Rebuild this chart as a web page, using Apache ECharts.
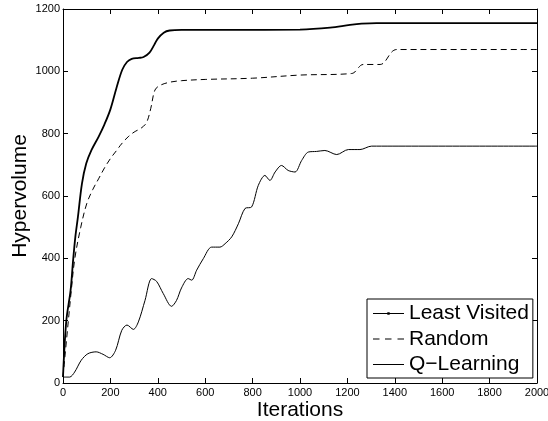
<!DOCTYPE html>
<html>
<head>
<meta charset="utf-8">
<script src="https://cdn.jsdelivr.net/npm/echarts@6/dist/echarts.min.js"></script>
<style>
html,body{margin:0;padding:0;background:#fff;}
#chart{width:548px;height:421px;}
</style>
</head>
<body>
<div id="chart"></div>
<script>
// Least Visited
var lvX = [0, 14, 32, 42, 52, 63, 80, 98, 120, 150, 175, 200, 225, 250, 270, 290, 320, 340, 365, 385, 400, 425, 450, 500, 700, 1000, 1127, 1211, 1260, 1323, 2000];
var lvY = [19, 200, 297, 388, 468, 533, 640, 704, 747, 790, 830, 878, 945, 1005, 1030, 1040, 1043, 1046, 1060, 1085, 1105, 1124, 1131, 1133, 1133, 1134, 1140, 1149, 1153, 1155, 1155];
// Random
var rndX = [0, 35, 50, 75, 100, 125, 150, 175, 200, 225, 250, 275, 300, 330, 352, 370, 388, 410, 450, 500, 600, 800, 1000, 1218, 1267, 1338, 1408, 2000];
var rndY = [19, 297, 400, 500, 575, 620, 655, 690, 720, 745, 770, 790, 805, 818, 835, 880, 940, 955, 965, 970, 974, 978, 988, 993, 1022, 1022, 1070, 1070];
// Q-Learning
var qlX = [0, 28, 49, 77, 105, 140, 169, 197, 222, 248, 270, 297, 318, 346, 374, 395, 423, 458, 479, 500, 528, 543, 564, 592, 627, 662, 684, 712, 740, 768, 796, 824, 852, 873, 895, 922, 950, 979, 1007, 1035, 1070, 1105, 1155, 1204, 1253, 1302, 2000];
var qlY = [19, 19, 35, 73, 94, 100, 92, 81, 105, 169, 186, 172, 196, 265, 335, 326, 287, 246, 265, 305, 335, 330, 362, 399, 436, 436, 447, 469, 511, 560, 565, 634, 666, 650, 677, 698, 682, 677, 714, 741, 743, 746, 733, 749, 749, 760, 760];

var seriesNames = ['Least Visited', 'Random', 'Q\u2212Learning'];
var xTicks = {min: 0, max: 2000, interval: 200};
var yTicks = {min: 0, max: 1200, interval: 200};

function zip(xs, ys) { return xs.map(function (x, i) { return [x, ys[i]]; }); }

var font = '"Liberation Sans", Arial, Helvetica, sans-serif';
var chart = echarts.init(document.getElementById('chart'), null, {renderer: 'canvas'});

function plain(v) { return String(v); }

function axisCommon(extra) {
  var base = {
    type: 'value',
    splitLine: {show: false},
    axisLine: {show: true, onZero: false, lineStyle: {color: '#000', width: 1}},
    axisTick: {show: true, inside: true, length: 5, lineStyle: {color: '#000'}},
    axisLabel: {color: '#000', fontSize: 11, fontFamily: font, formatter: plain}
  };
  for (var k in extra) base[k] = extra[k];
  return base;
}

chart.setOption({
  animation: false,
  backgroundColor: '#fff',
  grid: {left: 63, right: 11, top: 9, bottom: 38, containLabel: false, outerBoundsMode: 'none'},
  xAxis: [
    axisCommon({min: xTicks.min, max: xTicks.max, interval: xTicks.interval, position: 'bottom',
      name: 'Iterations', nameLocation: 'middle', nameGap: 17, nameMoveOverlap: false,
      nameTextStyle: {color: '#000', fontSize: 21, fontFamily: font},
      axisLabel: {color: '#000', fontSize: 11, fontFamily: font, margin: 4, formatter: plain}}),
    axisCommon({min: xTicks.min, max: xTicks.max, interval: xTicks.interval, position: 'top',
      axisLabel: {show: false}})
  ],
  yAxis: [
    axisCommon({min: yTicks.min, max: yTicks.max, interval: yTicks.interval, position: 'left',
      name: 'Hypervolume', nameLocation: 'middle', nameGap: 32, nameRotate: 90, nameMoveOverlap: false,
      nameTextStyle: {color: '#000', fontSize: 21, fontFamily: font},
      axisLabel: {color: '#000', fontSize: 11, fontFamily: font, margin: 3, formatter: plain}}),
    axisCommon({min: yTicks.min, max: yTicks.max, interval: yTicks.interval, position: 'right',
      axisLabel: {show: false}})
  ],
  legend: {
    orient: 'vertical',
    left: 367, top: 299,
    padding: [4, 4, 3, 6],
    itemWidth: 31, itemHeight: 14, itemGap: 4.5,
    backgroundColor: '#fff',
    borderColor: '#000', borderWidth: 1, borderRadius: 0,
    textStyle: {color: '#000', fontSize: 21, fontFamily: font, lineHeight: 21},
    data: [
      {name: seriesNames[0], icon: 'path://M0,9.5 L31,9.5 L31,10.6 L0,10.6 Z M14.3,8.7 L16.7,8.7 L16.7,11.4 L14.3,11.4 Z'},
      {name: seriesNames[1], icon: 'path://M0,9.5 L6.5,9.5 L6.5,10.5 L0,10.5 Z M12,9.5 L18.5,9.5 L18.5,10.5 L12,10.5 Z M24.5,9.5 L31,9.5 L31,10.5 L24.5,10.5 Z'},
      {name: seriesNames[2], icon: 'path://M0,9.5 L31,9.5 L31,10.5 L0,10.5 Z'}
    ]
  },
  series: [
    {
      name: seriesNames[0], type: 'line', xAxisIndex: 0, yAxisIndex: 0,
      data: zip(lvX, lvY), smooth: 0.35, showSymbol: false, symbol: 'none',
      lineStyle: {color: '#000', width: 1.8}, itemStyle: {color: '#000'}
    },
    {
      name: seriesNames[1], type: 'line', xAxisIndex: 0, yAxisIndex: 0,
      data: zip(rndX, rndY), smooth: 0.35, showSymbol: false, symbol: 'none',
      lineStyle: {color: '#000', width: 1, type: [6, 4]}, itemStyle: {color: '#000'}
    },
    {
      name: seriesNames[2], type: 'line', xAxisIndex: 0, yAxisIndex: 0,
      data: zip(qlX, qlY), smooth: 0.3, showSymbol: false, symbol: 'none',
      lineStyle: {color: '#000', width: 1}, itemStyle: {color: '#000'}
    }
  ]
});
</script>
</body>
</html>
